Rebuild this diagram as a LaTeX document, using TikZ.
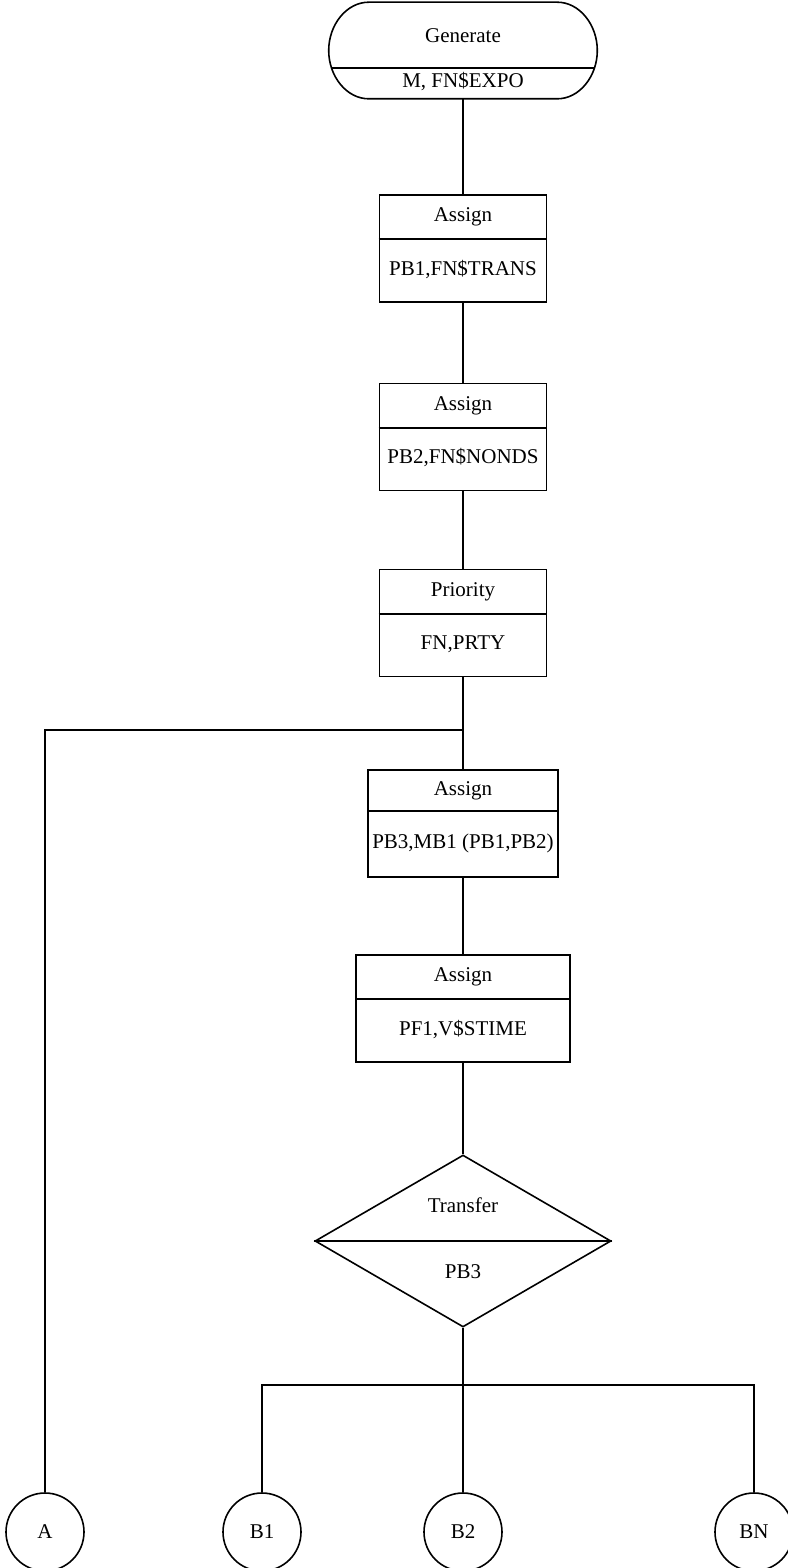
\documentclass[tikz,border=0pt]{standalone}
\usepackage{fontspec}
\setmainfont{Liberation Serif}
\usetikzlibrary{shapes.geometric,calc}
\begin{document}
\begin{tikzpicture}[x=1pt,y=-1pt,line width=1.6pt,
  lbl/.style={inner sep=0pt,font=\fontsize{21}{24}\selectfont,text height=14pt,text depth=4pt},
  blk/.style={draw,rectangle,inner sep=0pt,minimum height=107pt},
  frame/.style={rectangle,inner sep=0pt},
  term/.style={draw,circle,inner sep=0pt,minimum size=78pt,font=\fontsize{21}{24}\selectfont},
  dec/.style={draw,diamond,inner sep=0pt,minimum width=296pt,minimum height=172pt}]
\useasboundingbox (0,0) rectangle (787,1568);

% Generate (stadium)
\node[frame,minimum width=267pt,minimum height=95pt] (gen) at (463,50.5) {};
\draw ($(gen.north west)+(40,0)$) -- ($(gen.north east)+(-40,0)$)
  .. controls +(22,0) and +(0,-26) .. (gen.east)
  .. controls +(0,26) and +(22,0) .. ($(gen.south east)+(-40,0)$)
  -- ($(gen.south west)+(40,0)$)
  .. controls +(-22,0) and +(0,26) .. (gen.west)
  .. controls +(0,-26) and +(-22,0) .. ($(gen.north west)+(40,0)$) -- cycle;
\draw ($(gen.west)+(2.8,17.5)$) -- ($(gen.east)+(-2.8,17.5)$);
\node[lbl] (gent) at (463,38) {Generate};
\node[lbl] (genb) at (463,83) {M, FN\$EXPO};

% Assign 1
\node[blk,minimum width=167pt] (b1) at (463,248.5) {};
\draw ($(b1.north west)+(0,45)$) -- ($(b1.north east)+(0,45)$);
\node[lbl] (b1t) at ($(b1.north)+(0,22.5)$) {Assign};
\node[lbl] (b1b) at ($(b1.north)+(0,76)$) {PB1,FN\$TRANS};

% Assign 2
\node[blk,minimum width=167pt] (b2) at (463,437) {};
\draw ($(b2.north west)+(0,45)$) -- ($(b2.north east)+(0,45)$);
\node[lbl] (b2t) at ($(b2.north)+(0,22.5)$) {Assign};
\node[lbl] (b2b) at ($(b2.north)+(0,76)$) {PB2,FN\$NONDS};

% Priority
\node[blk,minimum width=167pt] (b3) at (463,623) {};
\draw ($(b3.north west)+(0,45)$) -- ($(b3.north east)+(0,45)$);
\node[lbl] (b3t) at ($(b3.north)+(0,22.5)$) {Priority};
\node[lbl] (b3b) at ($(b3.north)+(0,76)$) {FN,PRTY};

% Assign 3
\node[blk,minimum width=190pt] (b4) at (463,823.5) {};
\draw ($(b4.north west)+(0,42)$) -- ($(b4.north east)+(0,42)$);
\node[lbl] (b4t) at ($(b4.north)+(0,21)$) {Assign};
\node[lbl] (b4b) at ($(b4.north)+(0,74)$) {PB3,MB1 (PB1,PB2)};

% Assign 4
\node[blk,minimum width=214pt] (b5) at (463,1008.5) {};
\draw ($(b5.north west)+(0,45)$) -- ($(b5.north east)+(0,45)$);
\node[lbl] (b5t) at ($(b5.north)+(0,22.5)$) {Assign};
\node[lbl] (b5b) at ($(b5.north)+(0,76)$) {PF1,V\$STIME};

% Transfer
\node[dec] (d) at (463,1241) {};
\draw (d.west) -- (d.east);
\node[lbl] (dt) at (463,1207) {Transfer};
\node[lbl] (db) at (463,1273) {PB3};

% terminals
\node[term] (A) at (45,1532) {A};
\node[term] (B1) at (262,1532) {B1};
\node[term] (B2) at (463,1532) {B2};
\node[term] (BN) at (754,1532) {BN};

% connectors
\coordinate (j1) at (463,730);
\coordinate (j2) at (463,1385);
\draw (gen.south) -- (b1.north);
\draw (b1.south) -- (b2.north);
\draw (b2.south) -- (b3.north);
\draw (b3.south) -- (b4.north);
\draw (j1) -| (A.north);
\draw (b4.south) -- (b5.north);
\draw (b5.south) -- (d.north);
\draw (d.south) -- (j2);
\draw (j2) -| (B1.north);
\draw (j2) -| (BN.north);
\draw (j2) -- (B2.north);
\end{tikzpicture}
\end{document}
